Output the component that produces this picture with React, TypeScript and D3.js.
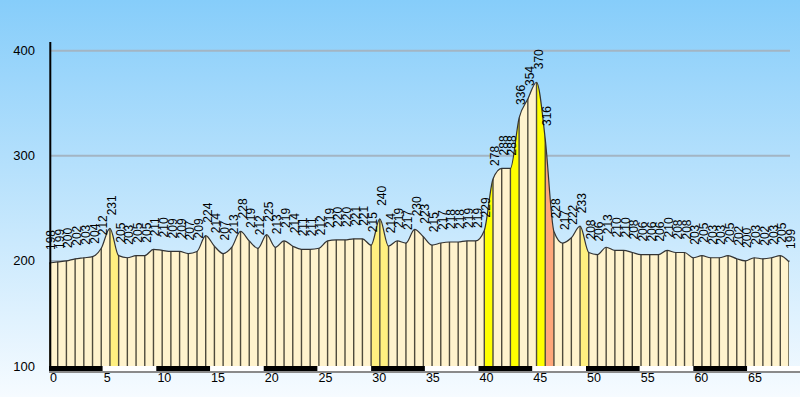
import React from "react";
import * as d3 from "d3";

const elevations = [
  198, 199, 200, 202, 203, 204, 212, 231, 205, 203, 205, 205, 211, 210, 209, 209, 207, 209, 224, 214,
  207, 213, 228, 219, 212, 225, 213, 219, 214, 211, 211, 212, 219, 220, 220, 221, 221, 215, 240, 214,
  219, 217, 230, 223, 215, 217, 218, 218, 219, 219, 229, 278, 288, 288, 336, 354, 370, 316, 228,
  217, 222, 233, 208, 206, 213, 210, 210, 208, 206, 206, 206, 210, 208, 208, 203, 205, 203, 203, 205,
  202, 200, 203, 202, 203, 205, 199,
];
const TOTAL_KM = 68.9;
const yTicks = [100, 200, 300, 400];
const kmTicks = [0, 5, 10, 15, 20, 25, 30, 35, 40, 45, 50, 55, 60, 65];
const kmBands = [0, 5, 10, 15, 20, 25, 30, 35, 40, 45, 50, 55, 60, 65];

const W = 800;
const H = 397;

function segColor(d: number) {
  const a = Math.abs(d);
  if (a >= 80) return "#ffa77a";
  if (a >= 40) return "#ffff00";
  if (a >= 24) return "#fff080";
  return "#fff3cd";
}

export default function App() {
  const n = elevations.length;
  const x = d3.scaleLinear().domain([0, TOTAL_KM]).range([49, 789]);
  const y = d3.scaleLinear().domain([100, 400]).range([366, 50.7]);
  const kmAt = (i: number) => (i * TOTAL_KM) / (n - 1);
  const pts: [number, number][] = elevations.map((v, i) => [x(kmAt(i)), y(v)]);
  const y0 = y(100);

  const lineGen = d3.line<[number, number]>().x((d) => d[0]).y((d) => d[1]).curve(d3.curveMonotoneX);
  const areaGen = d3
    .area<[number, number]>()
    .x((d) => d[0])
    .y0(y0)
    .y1((d) => d[1])
    .curve(d3.curveMonotoneX);

  const font = "'Liberation Sans', Arial, sans-serif";

  return (
    <svg width={W} height={H} style={{ position: "absolute", left: 0, top: 0 }}>
      <defs>
        <linearGradient id="bg" x1="0" y1="0" x2="0" y2="1">
          <stop offset="0%" stopColor="#86cdfa" />
          <stop offset="100%" stopColor="#f6fbff" />
        </linearGradient>
        <clipPath id="profileClip">
          <path d={areaGen(pts) || ""} />
        </clipPath>
      </defs>
      <rect x={0} y={0} width={W} height={H} fill="url(#bg)" />

      {yTicks
        .filter((t) => t > 100)
        .map((t) => (
          <line key={t} x1={50} x2={790} y1={y(t)} y2={y(t)} stroke="#a3b5c3" strokeWidth={2} />
        ))}

      <path d={areaGen(pts) || ""} fill="#fff3cd" />
      <g clipPath="url(#profileClip)">
        {pts.slice(0, -1).map((p, i) => {
          const c = segColor(elevations[i + 1] - elevations[i]);
          if (c === "#fff3cd") return null;
          return <rect key={"s" + i} x={p[0]} y={0} width={pts[i + 1][0] - p[0]} height={H} fill={c} />;
        })}
        {pts.map((p, i) => (
          <line key={"v" + i} x1={p[0]} x2={p[0]} y1={0} y2={y0} stroke="#4e4a3c" strokeWidth={1.4} />
        ))}
      </g>
      <path d={lineGen(pts) || ""} fill="none" stroke="#333" strokeWidth={1.2} />

      {elevations.map((v, i) => {
        const px = pts[i][0] + 6;
        const py = pts[i][1] - 13;
        return (
          <text
            key={"l" + i}
            transform={`translate(${px},${py}) rotate(-90)`}
            fontFamily={font}
            fontSize={12}
            fill="#000"
          >
            {v}
          </text>
        );
      })}

      <rect x={49} y={366} width={752} height={7} fill="#8a8a8a" />
      {kmBands.map((k, i) => (
        <rect
          key={"b" + k}
          x={x(k)}
          y={366}
          width={x(k + 5) - x(k)}
          height={5}
          fill={i % 2 === 0 ? "#000" : "#fff"}
        />
      ))}
      <line x1={50.3} x2={50.3} y1={42} y2={367} stroke="#000" strokeWidth={2} />

      {yTicks.map((t) => (
        <text key={"yt" + t} x={35} y={y(t) + 4.5} textAnchor="end" fontFamily={font} fontSize={13} fill="#000">
          {t}
        </text>
      ))}
      {kmTicks.map((k) => (
        <text key={"xt" + k} x={x(k) + 1} y={382} fontFamily={font} fontSize={12.5} fill="#000">
          {k}
        </text>
      ))}
    </svg>
  );
}
